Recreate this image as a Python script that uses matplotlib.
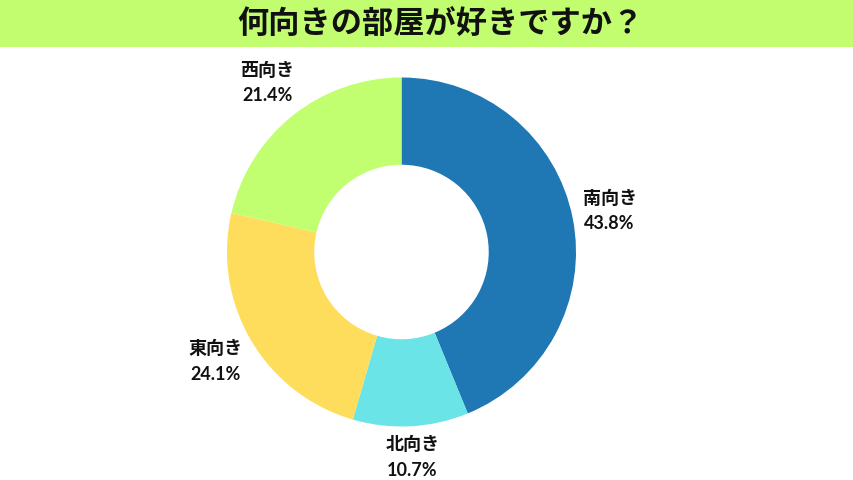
import matplotlib
matplotlib.use("Agg")
import matplotlib.pyplot as plt
import numpy as np

plt.rcParams['font.family'] = ['Noto Sans CJK JP', 'DejaVu Sans']

title = "何向きの部屋が好きですか？"
categories = ["南向き", "北向き", "東向き", "西向き"]
values = [43.8, 10.7, 24.1, 21.4]
colors = ["#1f77b4", "#6ae4e6", "#ffdd5c", "#c2ff70"]

W, H = 854, 480
fig = plt.figure(figsize=(W / 100, H / 100), dpi=100)
fig.patch.set_facecolor("white")

# title bar
bar_h = 47
tax = fig.add_axes([0, 1 - bar_h / H, 1, bar_h / H])
tax.set_facecolor("#c2fd70")
tax.set_xticks([]); tax.set_yticks([])
for s in tax.spines.values():
    s.set_visible(False)
tax.text(0.516, 0.48, title, ha="center", va="center", fontsize=22.5,
         fontweight="bold", color="#111111", transform=tax.transAxes)

# donut
cx, cy, r = 401.5, 252, 174.5
ax = fig.add_axes([(cx - r) / W, (H - cy - r) / H, 2 * r / W, 2 * r / H])
wedges, _ = ax.pie(values, colors=colors, startangle=90, counterclock=False,
                   wedgeprops=dict(width=0.5, edgecolor="none"))
ax.set_xlim(-1, 1)
ax.set_ylim(-1, 1)
ax.set_aspect("equal")
ax.axis("off")

# labels placed just outside the ring, offset by half the text box
half_w, half_h = 26 / r, 22 / r
for w, c, v in zip(wedges, categories, values):
    ang = np.deg2rad((w.theta1 + w.theta2) / 2)
    ca, sa = np.cos(ang), np.sin(ang)
    d = 1.045 + abs(ca) * half_w + abs(sa) * half_h
    ax.text(d * ca, d * sa, f"{c}\n{v:.1f}%", ha="center", va="center",
            fontsize=13, fontweight="bold", color="#111111", linespacing=1.6,
            family=["Lato", "Noto Sans CJK JP"], clip_on=False)

fig.savefig("out.png", dpi=100)
